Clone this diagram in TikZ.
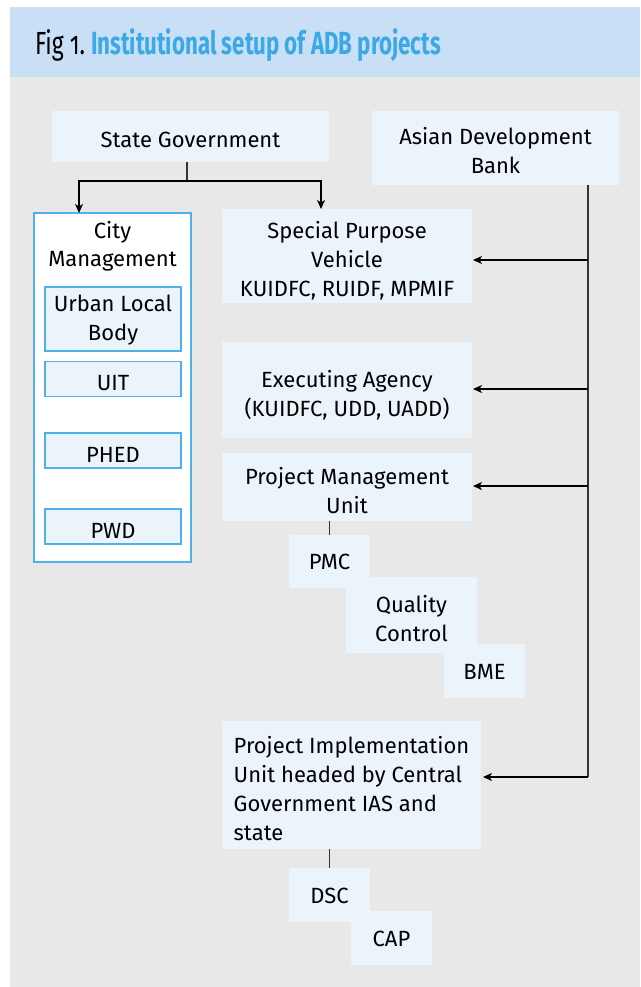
\documentclass[tikz,border=0pt]{standalone}
\usepackage{fontspec}
\setmainfont{Fira Sans}
\newfontfamily\figfont[Numbers=OldStyle]{Fira Sans}
\usetikzlibrary{arrows.meta}
\definecolor{band}{HTML}{C8DFF5}
\definecolor{panel}{HTML}{E8E8E8}
\definecolor{boxfill}{HTML}{EBF3FB}
\definecolor{rule}{HTML}{4DB2EC}
\definecolor{titleblue}{HTML}{3BA9E6}
% first-line height and last-line depth, so baselines sit alike in every box
\newcommand\upstrut[1][29pt]{\rule{0pt}{#1}}
\newcommand\downstrut{\rule[-6pt]{0pt}{0pt}}

\begin{document}
\begin{tikzpicture}[x=1pt,y=-1pt,
  every node/.style={inner sep=0pt, outer sep=0pt},
  unit/.style={fill=boxfill, align=center, font=\fontsize{22}{29}\selectfont},
  subunit/.style={unit, draw=rule, line width=1.2pt},
  arr/.style={-{Stealth[length=9pt,width=8pt,inset=2.5pt]}, line width=1.2pt},
  link/.style={line width=1.3pt, draw=black!80}]
\useasboundingbox (0,0) rectangle (640,987);

% heading band and panel
\fill[band] (10,7) rectangle (640,77);
\fill[panel] (10,77) rectangle (640,987);
\node[anchor=base west] (figno) at (35,55)
  {\resizebox{50pt}{\height}{\fontsize{32}{36}\figfont Fig 1.}};
\node[anchor=base west] (title) at (91,55)
  {\resizebox{350pt}{\height}{\fontsize{32}{36}\selectfont\bfseries\color{titleblue}Institutional setup of ADB projects}};

% top level
\node[unit, minimum width=277pt, minimum height=51pt] (sg) at (190.5,136.5) {\upstrut State Government\downstrut};
\node[unit, minimum width=247pt, minimum height=74pt] (adb) at (495.5,148) {\upstrut Asian Development\\Bank\downstrut};

% city management group
\node[draw=rule, fill=white, line width=1.2pt, minimum width=157pt, minimum height=349pt] (city) at (112.5,387.5) {};
\node[align=center, font=\fontsize{22}{28}\selectfont] (citylbl) at (112.5,246) {City\\Management};
\node[subunit, minimum width=136pt, minimum height=64pt] (ulb) at (113,319) {\upstrut[19pt]Urban Local\\Body\downstrut};
\node[subunit, minimum width=136pt, minimum height=30pt] (uit) at (113,379) {\upstrut UIT\downstrut};
\node[subunit, minimum width=136pt, minimum height=35pt] (phed) at (113,450.5) {\upstrut PHED\downstrut};
\node[subunit, minimum width=136pt, minimum height=33pt] (pwd) at (113,526.5) {\upstrut PWD\downstrut};

% agencies
\node[unit, minimum width=250pt, minimum height=94pt] (spv) at (347,256) {\upstrut Special Purpose\\Vehicle\\KUIDFC, RUIDF, MPMIF\downstrut};
\node[unit, minimum width=250pt, minimum height=96pt] (ea) at (347,390) {\upstrut Executing Agency\\(KUIDFC, UDD, UADD)\downstrut};
\node[unit, minimum width=250pt, minimum height=68pt] (pmu) at (347,487) {\upstrut Project Management\\Unit\downstrut};
\node[unit, minimum width=81pt, minimum height=53pt] (pmc) at (329.5,561.5) {\upstrut[22pt]PMC\downstrut};
\node[unit, minimum width=131pt, minimum height=76pt] (qc) at (411.5,615) {\upstrut Quality\\Control\downstrut};
\node[unit, minimum width=81pt, minimum height=54pt] (bme) at (484.5,671) {\upstrut[22pt]BME\downstrut};
\node[unit, align=left, minimum width=259pt, minimum height=128pt] (piu) at (351.5,785)
  {\upstrut Project Implementation\\Unit headed by Central\\Government IAS and\\state\downstrut};
\node[unit, minimum width=81pt, minimum height=54pt] (dsc) at (329.5,895) {\upstrut[22pt]DSC\downstrut};
\node[unit, minimum width=81pt, minimum height=54pt] (cap) at (391.5,938) {\upstrut[22pt]CAP\downstrut};

% state government branches
\coordinate (split) at (187,181);
\draw[link] (sg.south -| split) -- (split);
\draw[arr] (split) -| ([xshift=45pt]city.north west);
\draw[arr] (split) -| ([xshift=99pt]spv.north west);

% ADB trunk and feeds
\coordinate (t1) at (588,260);
\coordinate (t2) at (588,389);
\coordinate (t3) at (588,486);
\coordinate (t4) at (588,777);
\draw[link] (adb.south -| t1) -- (t4);
\draw[arr] (t1) -- ([xshift=1pt]t1 -| spv.east);
\draw[arr] (t2) -- ([xshift=1pt]t2 -| ea.east);
\draw[arr] (t3) -- ([xshift=1pt]t3 -| pmu.east);
\draw[arr] (t4) -- ([xshift=2pt]t4 -| piu.east);

% units below
\draw[link] (pmu.south -| pmc.north) -- (pmc.north);
\draw[link] (piu.south -| dsc.north) -- (dsc.north);
\end{tikzpicture}
\end{document}
